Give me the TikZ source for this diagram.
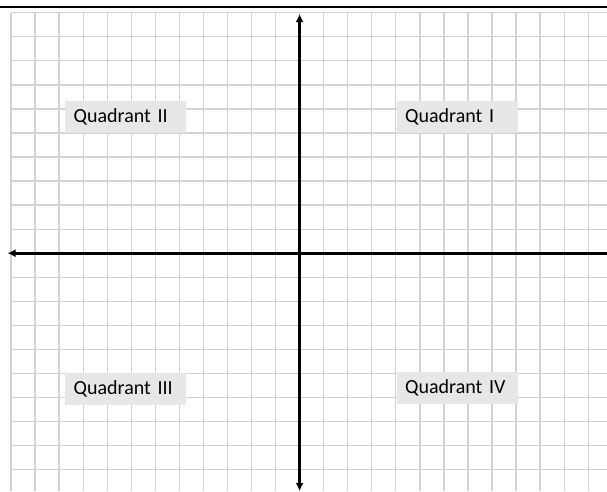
\documentclass[tikz,border=0pt]{standalone}
\usepackage{fontspec}
\setmainfont{Carlito}
\usepackage{tikz}
\usetikzlibrary{arrows.meta,positioning,calc}
\definecolor{gridgris}{HTML}{D2D2D2}
\definecolor{boxgris}{HTML}{E7E7E7}
\tikzset{
  gridline/.style={draw=gridgris, line width=1.3pt},
  axis/.style={line width=2.6pt},
  quad/.style={rectangle, fill=boxgris, anchor=north west, text width=104pt, align=left,
               inner xsep=8.5pt, inner ysep=0pt, minimum height=32pt,
               font=\fontsize{20}{22}\selectfont},
}

\begin{document}
\begin{tikzpicture}[x=1pt, y=-1pt]
    \useasboundingbox (0,0) rectangle (607,491);
    \fill[white] (0,0) rectangle (607,491);
    % grid
    \foreach \i in {0,...,24}
      \draw[gridline] ({11+24.05*\i},12.7) -- ({11+24.05*\i},491);
    \foreach \j in {0,...,19}
      \draw[gridline] (11,{12.7+24.05*\j}) -- (607,{12.7+24.05*\j});
    % top rule
    \draw[line width=1.6pt] (0,7) -- (607,7);
    % axes
    \coordinate (top) at (299.6,14);
    \coordinate (bottom) at (299.6,491);
    \coordinate (left) at (7.5,253.2);
    \coordinate (right) at (607,253.2);
    \draw[axis, -{Latex[length=8pt,width=8pt]}] (right) -- (left);
    \draw[axis, {Latex[length=8pt,width=8pt]}-{Latex[length=8pt,width=8pt]}] (top) -- (bottom);
    % labels
    \node[quad] (q2) at (65,101) {Quadrant II};
    \node[quad] (q1) at (396.5,100.7) {Quadrant I};
    \node[quad] (q3) at (65,372.7) {Quadrant III};
    \node[quad] (q4) at (396.5,371.7) {Quadrant IV};
  \end{tikzpicture}
\end{document}
